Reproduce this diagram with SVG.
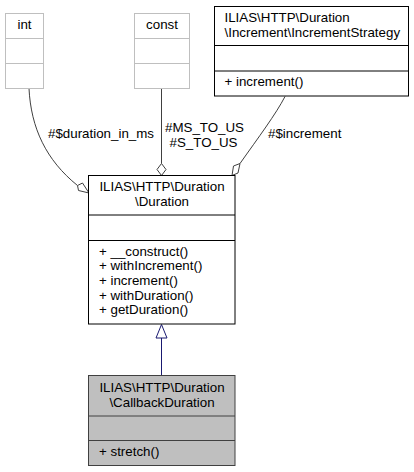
<svg xmlns="http://www.w3.org/2000/svg" width="414" height="472" viewBox="0 0 414 472">
<style>
text{font-family:"Liberation Sans",Arial,Helvetica,sans-serif;font-size:13.33px;fill:#000}
.c{text-anchor:middle}
.box{fill:#fff;stroke:#000;stroke-width:1}
.gbox{fill:#fff;stroke:#bfbfbf;stroke-width:1}
.cur{fill:#bfbfbf;stroke:#404040;stroke-width:1}
.agg{fill:none;stroke:#404040;stroke-width:1}
.dia{fill:#fff;stroke:#404040;stroke-width:1}
.inh{fill:none;stroke:#191970;stroke-width:1}
.tri{fill:#fff;stroke:#191970;stroke-width:1}
</style>
<rect width="414" height="472" fill="#fff"/>
<g id="connectors">
  <path class="agg" d="M29,88.5 C31,128 46,160 77.5,185.5"/>
  <polygon class="dia" points="89,193 82.5,183 77.5,185.5 78.5,190.5"/>
  <path class="agg" d="M161.5,88.5 L161.5,163.5"/>
  <polygon class="dia" points="161.5,175.5 166,169.5 161.5,163.5 157,169.5"/>
  <path class="agg" d="M285,96.5 C276,114 258,138 240,163.5"/>
  <polygon class="dia" points="232,175.5 238,173 240,163.5 233.5,166"/>
  <text x="154" y="137.7" style="text-anchor:end">#$duration_in_ms</text>
  <text x="204.5" y="131.7" class="c">#MS_TO_US</text>
  <text x="203.5" y="146.7" class="c">#S_TO_US</text>
  <text x="268" y="137.7">#$increment</text>
  <path class="inh" d="M161.5,338 L161.5,375.5"/>
  <polygon class="tri" points="161.5,324.5 167,338 156,338"/>
</g>
<g id="int">
  <rect class="gbox" x="5.5" y="13.5" width="38" height="75"/>
  <line class="gbox" x1="5.5" y1="38.5" x2="43.5" y2="38.5"/>
  <line class="gbox" x1="5.5" y1="63.5" x2="43.5" y2="63.5"/>
  <text x="24.5" y="29" class="c">int</text>
</g>
<g id="const">
  <rect class="gbox" x="134.5" y="13.5" width="55" height="75"/>
  <line class="gbox" x1="134.5" y1="38.5" x2="189.5" y2="38.5"/>
  <line class="gbox" x1="134.5" y1="63.5" x2="189.5" y2="63.5"/>
  <text x="162" y="29" class="c">const</text>
</g>
<g id="IncrementStrategy">
  <rect class="box" x="214.5" y="6.5" width="194" height="89.5"/>
  <line class="box" x1="214.5" y1="45.5" x2="408.5" y2="45.5"/>
  <line class="box" x1="214.5" y1="71" x2="408.5" y2="71"/>
  <text x="224.5" y="21.7">ILIAS\HTTP\Duration</text>
  <text x="224.5" y="36.7">\Increment\IncrementStrategy</text>
  <text x="224.5" y="86">+ increment()</text>
</g>
<g id="Duration">
  <rect class="box" x="88.5" y="175.5" width="146.5" height="148.5"/>
  <line class="box" x1="88.5" y1="215" x2="235" y2="215"/>
  <line class="box" x1="88.5" y1="240.5" x2="235" y2="240.5"/>
  <text x="162" y="190.7" class="c">ILIAS\HTTP\Duration</text>
  <text x="162" y="205.7" class="c">\Duration</text>
  <text x="99" y="255.5">+ __construct()</text>
  <text x="99" y="270.2">+ withIncrement()</text>
  <text x="99" y="284.9">+ increment()</text>
  <text x="99" y="299.6">+ withDuration()</text>
  <text x="99" y="314.3">+ getDuration()</text>
</g>
<g id="CallbackDuration">
  <rect class="cur" x="88.5" y="375.5" width="146.5" height="90"/>
  <line class="cur" x1="88.5" y1="416" x2="235" y2="416"/>
  <line class="cur" x1="88.5" y1="440.5" x2="235" y2="440.5"/>
  <text x="162" y="391.5" class="c">ILIAS\HTTP\Duration</text>
  <text x="162" y="406.5" class="c">\CallbackDuration</text>
  <text x="99" y="455.5">+ stretch()</text>
</g>
</svg>
